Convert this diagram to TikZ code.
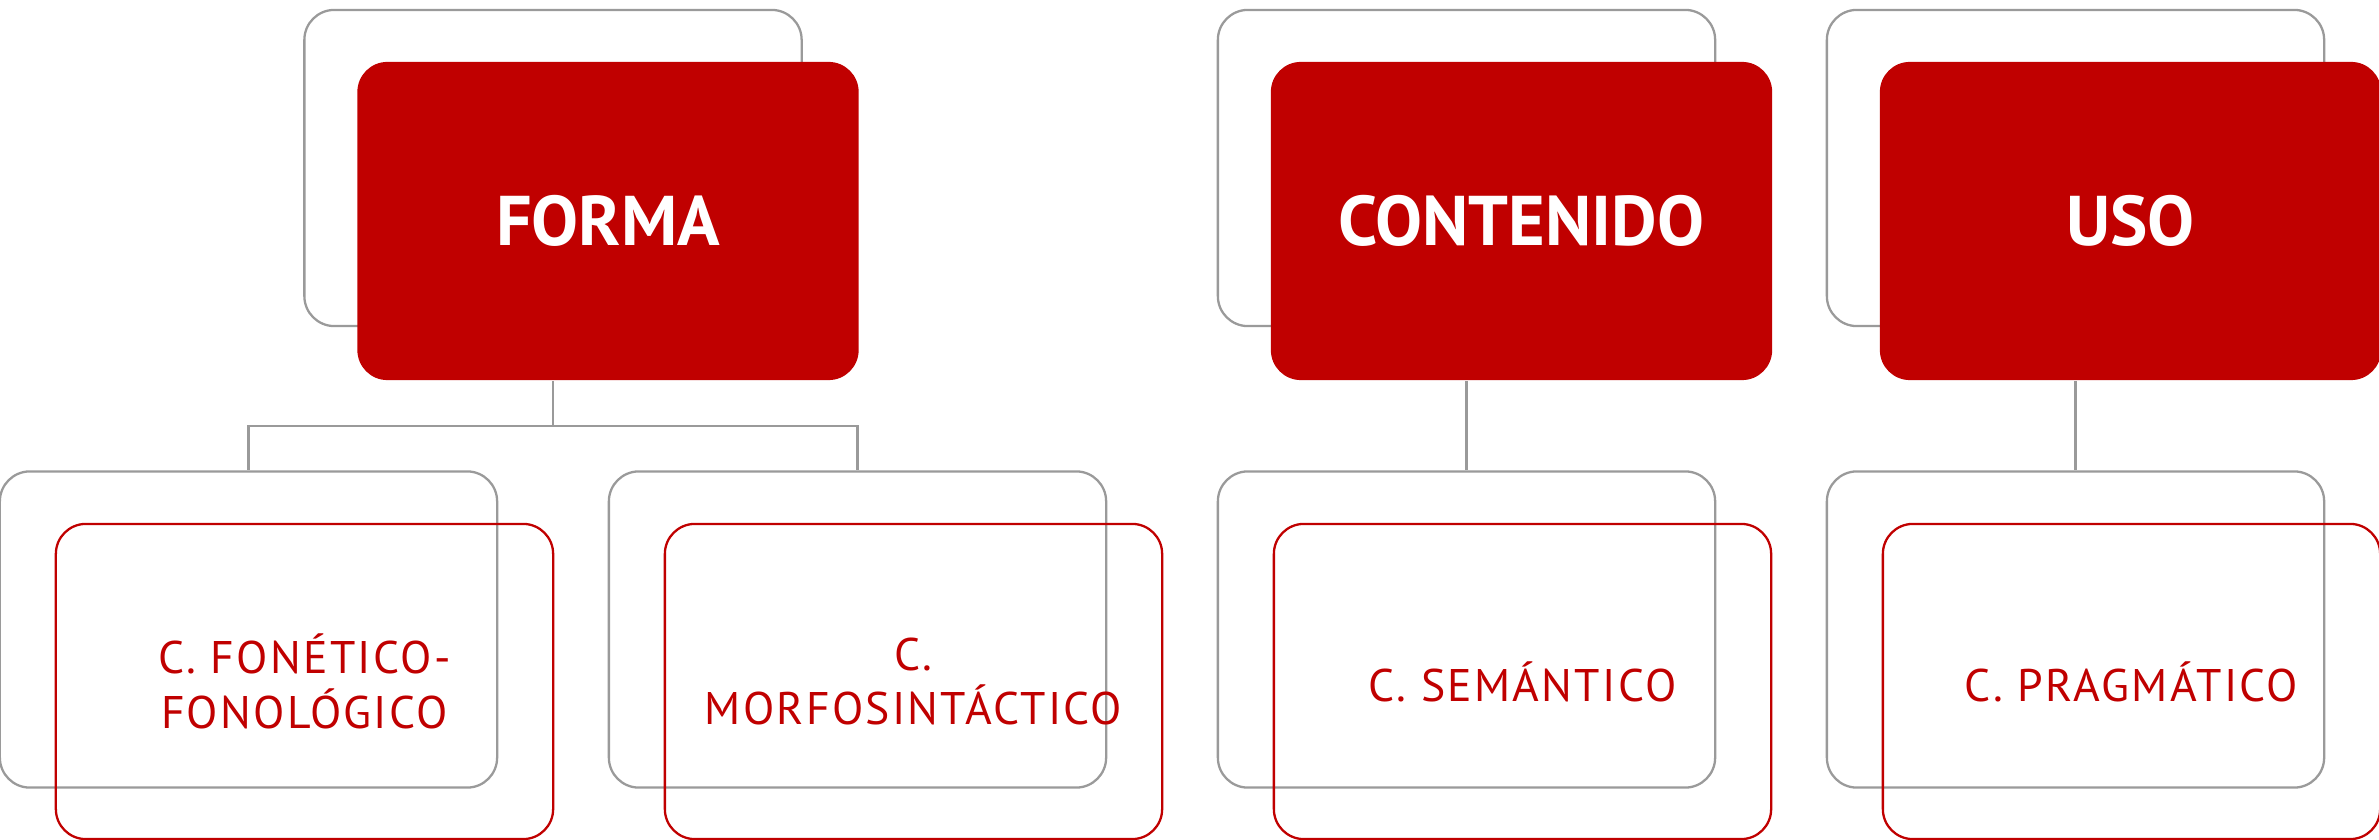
\documentclass[tikz,border=0pt]{standalone}
\usepackage{fontspec}
\setmainfont{PT Sans}
\usetikzlibrary{positioning}
\definecolor{darkred}{HTML}{C00000}
\definecolor{boxgray}{HTML}{9A9A9A}

\begin{document}
\begin{tikzpicture}[x=0.01cm, y=-0.01cm,
		backbox/.style={draw=boxgray, line width=0.65pt, rounded corners=0.3cm, minimum width=4.97cm, minimum height=3.16cm},
		headbox/.style={fill=darkred, rounded corners=0.3cm, minimum width=5.01cm, minimum height=3.18cm, text=white, font=\fontsize{20}{24}\selectfont\bfseries},
		leafbox/.style={draw=darkred, line width=0.65pt, rounded corners=0.3cm, minimum width=4.97cm, minimum height=3.15cm, text=darkred, align=center, font=\fontsize{13}{15.6}\selectfont\addfontfeature{LetterSpace=5}},
		link/.style={draw=boxgray, line width=0.65pt}]
			\useasboundingbox (0,0) rectangle (2379,840);
			\node[backbox] (formaback) at (553,168) {};
			\node[backbox] (contback) at (1466.5,168) {};
			\node[backbox] (usoback) at (2075.5,168) {};
			\node[headbox] (forma) at ([shift={(55,53)}]formaback) {FORMA};
			\node[headbox] (cont) at ([shift={(55,53)}]contback) {CONTENIDO};
			\node[headbox] (uso) at ([shift={(55,53)}]usoback) {USO};
			\node[backbox] (fonback) at (248.5,629.5) {};
			\node[backbox] (morback) at (857.5,629.5) {};
			\node[backbox] (semback) at (1466.5,629.5) {};
			\node[backbox] (pragback) at (2075.5,629.5) {};
			\node[leafbox] (fon) at ([shift={(56,52)}]fonback) {C. FONÉTICO-\\FONOLÓGICO};
			\node[leafbox] (mor) at ([shift={(56,52)}]morback) {C.\\MORFOSINTÁCTICO};
			\node[leafbox] (sem) at ([shift={(56,52)}]semback) {C. SEMÁNTICO};
			\node[leafbox] (prag) at ([shift={(56,52)}]pragback) {C. PRAGMÁTICO};
			\draw[link] (formaback.south |- forma.south) -- ++(0,45) -| (fonback.north);
			\draw[link] (formaback.south |- forma.south) -- ++(0,45) -| (morback.north);
			\draw[link] (contback.south |- cont.south) -- (semback.north);
			\draw[link] (usoback.south |- uso.south) -- (pragback.north);
\end{tikzpicture}
\end{document}
